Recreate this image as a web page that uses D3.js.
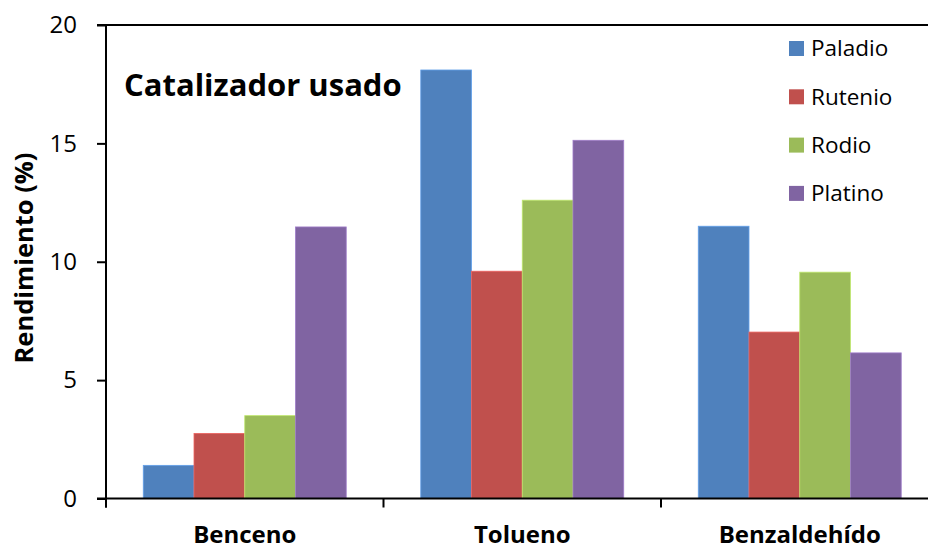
<!DOCTYPE html>
<html>
<head>
<meta charset="utf-8">
<script src="https://cdn.jsdelivr.net/npm/d3@7"></script>
<style>
  body { margin: 0; background: #fff; }
  svg { display: block; font-family: "Open Sans", sans-serif; }
</style>
</head>
<body>
<div id="chart"></div>
<script>
var categories = ['Benceno', 'Tolueno', 'Benzaldehído'];
var series = ['Paladio', 'Rutenio', 'Rodio', 'Platino'];
var colors = ['#4F81BD', '#C0504D', '#9BBB59', '#8064A2'];
var paladio = [1.4, 18.1, 11.5];
var rutenio = [2.75, 9.6, 7.03];
var rodio = [3.5, 12.6, 9.56];
var platino = [11.47, 15.13, 6.15];
var yTicks = [0, 5, 10, 15, 20];

var values = [paladio, rutenio, rodio, platino];

var width = 928, height = 549;
var plotLeft = 106, plotTop = 25, plotBottom = 498.5;
var band = 277.5;
var font = '"Open Sans", sans-serif';

var svg = d3.select('#chart')
    .append('svg')
    .attr('width', width)
    .attr('height', height);

var x = d3.scaleBand()
    .domain(categories)
    .range([plotLeft, plotLeft + band * categories.length]);

// the four bars fill the middle of each category band
var xs = d3.scaleBand()
    .domain(series)
    .range([band * 0.1343, band * (1 - 0.1343)]);

var y = d3.scaleLinear()
    .domain([0, 20])
    .range([plotBottom, plotTop]);

// top border line
svg.append('line')
    .attr('x1', plotLeft - 9)
    .attr('x2', width)
    .attr('y1', y(20))
    .attr('y2', y(20))
    .attr('stroke', '#000')
    .attr('stroke-width', 2);

// bars
series.forEach(function(s, i) {
  svg.append('g')
    .selectAll('rect')
    .data(values[i])
    .enter()
    .append('rect')
    .attr('x', (d, j) => x(categories[j]) + xs(s))
    .attr('y', d => y(d))
    .attr('width', xs.bandwidth())
    .attr('height', d => y(0) - y(d))
    .attr('fill', colors[i])
    .attr('stroke', d3.color(colors[i]).brighter(0.6))
    .attr('stroke-width', 0.8);
});

// y axis
var yAxis = svg.append('g')
    .attr('transform', 'translate(' + plotLeft + ',0)')
    .call(d3.axisLeft(y).tickValues(yTicks).tickSize(9).tickPadding(20).tickFormat(d3.format('d')));
yAxis.select('.domain').attr('stroke-width', 2).attr('d', 'M0,' + plotTop + 'V' + (plotBottom + 9));
yAxis.selectAll('.tick line').attr('stroke-width', 2);
yAxis.selectAll('.tick text')
    .attr('font-size', 24)
    .attr('fill', '#000')
    .style('font-family', font);

// x axis
var xAxis = svg.append('g')
    .attr('transform', 'translate(0,' + plotBottom + ')')
    .call(d3.axisBottom(x).tickSize(0).tickPadding(27));
xAxis.select('.domain').attr('stroke-width', 2).attr('d', 'M' + (plotLeft - 9) + ',0H' + width);
xAxis.selectAll('.tick text')
    .attr('font-size', 24)
    .attr('font-weight', 'bold')
    .attr('fill', '#000')
    .style('font-family', font);

// category separators
svg.append('g')
    .selectAll('line')
    .data(categories)
    .enter()
    .append('line')
    .attr('x1', d => x(d))
    .attr('x2', d => x(d))
    .attr('y1', plotBottom)
    .attr('y2', plotBottom + 9)
    .attr('stroke', '#000')
    .attr('stroke-width', 2);

// y title
svg.append('text')
    .attr('transform', 'translate(33,258) rotate(-90)')
    .attr('text-anchor', 'middle')
    .attr('font-size', 25.5)
    .attr('font-weight', 'bold')
    .text('Rendimiento (%)');

// chart title
svg.append('text')
    .attr('x', 124)
    .attr('y', 96)
    .attr('font-size', 31)
    .attr('font-weight', 'bold')
    .text('Catalizador usado');

// legend
var legend = svg.append('g')
    .selectAll('g')
    .data(series)
    .enter()
    .append('g')
    .attr('transform', (d, i) => 'translate(789,' + (48.5 + i * 48.3) + ')');

legend.append('rect')
    .attr('x', 0)
    .attr('y', -7.5)
    .attr('width', 15)
    .attr('height', 15)
    .attr('fill', (d, i) => colors[i]);

legend.append('text')
    .attr('x', 22)
    .attr('y', 0)
    .attr('dy', '0.35em')
    .attr('font-size', 22.5)
    .text(d => d);
</script>
</body>
</html>
